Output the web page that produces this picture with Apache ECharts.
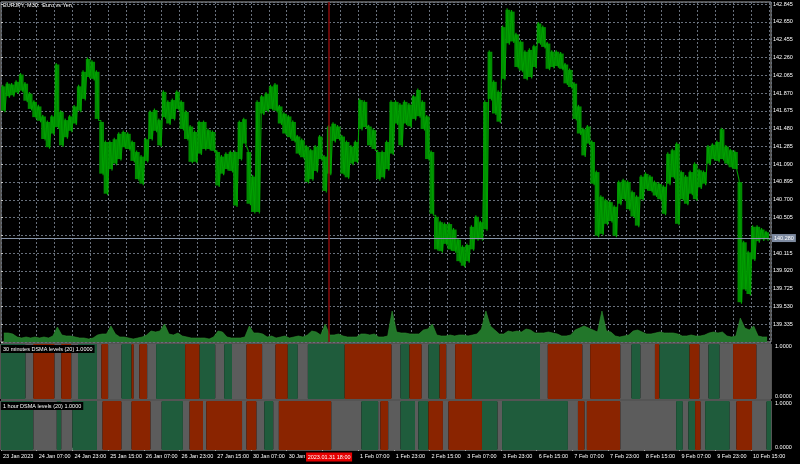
<!DOCTYPE html>
<html><head><meta charset="utf-8">
<script src="https://cdn.jsdelivr.net/npm/echarts@6/dist/echarts.min.js"></script>
<style>html,body{margin:0;padding:0;background:#000;}#c{width:800px;height:464px;}</style>
</head><body><div id="c"></div>
<script>
// ---- data (EURJPY M30, each entry = one group of 4 bars) ----
const BARS_PER_GROUP = 4;
const priceHigh = [
141.96,141.99,141.98,142.01,142.09,141.99,141.88,141.79,141.74,141.63,
141.57,141.63,142.20,141.68,141.59,141.63,141.74,141.96,142.12,142.26,
142.23,142.12,141.57,141.35,141.35,141.38,141.44,141.46,141.44,141.35,
141.24,141.19,141.38,141.68,141.70,141.59,141.90,141.79,141.81,141.90,
141.79,141.68,141.52,141.46,141.57,141.57,141.48,141.46,141.24,141.19,
141.22,141.24,141.24,141.57,141.60,141.24,140.97,141.79,141.85,141.88,
141.96,141.98,141.74,141.66,141.63,141.57,141.41,141.37,141.30,141.26,
141.30,141.41,141.19,141.52,141.55,141.52,141.41,141.35,141.30,141.35,
141.81,141.79,141.52,141.48,141.24,141.24,141.35,141.79,141.79,141.76,
141.79,141.76,141.85,141.92,141.79,141.63,141.24,140.53,140.47,140.45,
140.45,140.39,140.28,140.20,140.22,140.42,140.53,140.47,141.79,142.34,
142.01,141.90,142.61,142.80,142.78,142.53,142.45,142.34,142.36,142.40,
142.65,142.61,142.43,142.34,142.34,142.32,142.20,142.14,141.99,141.74,
141.49,141.52,141.35,141.02,140.75,140.71,140.69,140.64,140.91,140.93,
140.91,140.80,140.75,140.97,141.00,140.97,140.91,140.89,140.86,141.22,
141.26,141.33,141.02,140.97,141.02,141.11,141.04,141.02,141.30,141.32,
141.35,141.49,141.30,141.26,141.24,140.91,140.25,140.14,140.42,140.42,
140.39,140.36];
const priceLow = [
141.66,141.82,141.83,141.86,141.88,141.77,141.68,141.59,141.55,141.35,
141.26,141.41,141.48,141.28,141.37,141.44,141.52,141.66,141.79,142.03,
142.01,141.57,140.97,140.75,141.02,141.08,141.13,141.26,141.24,141.11,
140.91,140.86,141.11,141.35,141.44,141.28,141.59,141.52,141.57,141.68,
141.46,141.35,141.10,141.10,141.19,141.24,141.24,141.22,140.84,140.97,
141.02,141.00,140.62,141.13,141.30,140.64,140.55,140.55,141.63,141.66,
141.68,141.66,141.52,141.41,141.37,141.33,141.19,141.15,140.88,140.91,
141.00,141.13,140.78,140.97,141.33,141.35,140.97,140.93,141.08,141.10,
141.46,141.48,141.28,141.24,140.91,140.93,141.02,141.19,141.52,141.28,
141.52,141.49,141.57,141.60,141.46,141.13,140.53,140.14,140.12,140.20,
140.14,140.12,140.01,139.96,140.01,140.14,140.25,140.25,140.36,141.79,
141.63,141.54,142.01,142.40,142.42,142.14,142.10,142.01,142.03,142.14,
142.40,142.36,142.12,142.14,142.15,142.12,141.96,141.92,141.57,141.41,
141.17,141.30,140.86,140.29,140.31,140.42,140.45,140.29,140.64,140.69,
140.58,140.50,140.40,140.69,140.80,140.78,140.73,140.69,140.53,140.86,
140.93,140.42,140.69,140.64,140.75,140.69,140.82,140.86,141.08,141.13,
141.11,141.13,141.08,141.04,141.02,139.56,139.70,139.65,140.03,140.23,
140.25,140.25];
const tickVolume = [
1800,1800,1600,1000,800,1000,800,1000,800,1000,
800,1200,3000,1400,1200,1200,1000,800,800,600,
800,1400,1600,1600,3200,1600,1000,1000,800,600,
800,1000,1400,2200,2000,2200,3600,1600,1400,1800,
1200,1000,800,800,800,800,600,1000,2200,2000,
1000,800,800,800,1000,3200,1800,1800,1600,1000,
1200,800,1000,1200,800,1000,1200,1000,1400,2200,
2000,1400,3600,1400,1400,1600,1200,1000,1000,1000,
1600,1600,1400,1600,1000,1000,1200,6200,2000,1800,
1800,1600,1600,1600,2400,2600,3600,1400,1200,1200,
1400,1200,1400,1400,1200,1400,1600,2600,6200,3200,
2400,1600,1600,2200,2000,2200,2000,2600,2400,1800,
1800,1800,2000,1800,1600,1200,1200,1400,2400,2800,
3200,2800,2400,2000,6200,2200,2000,1200,1000,1200,
1400,2200,2400,2000,1600,1600,1800,2000,1800,1800,
1800,1600,1200,1200,1400,1200,1200,1400,1800,2000,
1800,2000,1200,1000,1200,4800,2800,2400,3200,1200,
1000,1000];
const xTickLabels = ['23 Jan 2023','24 Jan 07:00','24 Jan 23:00','25 Jan 15:00','26 Jan 07:00','26 Jan 23:00',
  '27 Jan 15:00','30 Jan 07:00','30 Jan 23:00','','1 Feb 07:00','1 Feb 23:00','2 Feb 15:00','3 Feb 07:00',
  '3 Feb 23:00','6 Feb 15:00','7 Feb 07:00','7 Feb 23:00','8 Feb 15:00','9 Feb 07:00','9 Feb 23:00','10 Feb 15:00'];
const yTickLabels = ['139.335','139.530','139.725','139.920','140.115','','140.505','140.700','140.895',
  '141.090','141.285','141.480','141.675','141.870','142.065','142.260','142.455','142.650','142.845'];
const lastPrice = 140.280;
const markerBar = 294;
const markerLabel = '2023.01.31 18:00';
// DSMA level states: 1 = up (green), 0 = flat (grey), -1 = down (red); edges in bar numbers
const m30Edges = [0,22,29,48,54,63,69,86,90,96,108,117,119,124,131,139,165,178,192,200,207,220,234,246,257,266,275,308,350,358,366,377,383,393,399,407,422,483,490,521,528,555,565,573,586,590,617,626,634,644,656,677,690];
const m30States = [1,0,-1,0,-1,0,1,0,-1,0, 1,-1,0,-1,0,1,-1,1,0,1, 0,-1,0,-1,1,0,1,-1,0,1, -1,0,1,-1,0,-1,1,0,-1,0, -1,0,1,0,-1,1,-1,0,1,0, -1,0];
const h1Edges = [0,29,50,54,64,86,91,108,117,134,144,163,169,181,184,216,220,229,236,244,249,296,323,338,340,347,358,371,374,383,396,401,431,445,449,508,517,523,525,555,605,611,616,622,627,631,653,659,673,686,690];
const h1States = [1,0,1,0,1,0,-1,0,-1,0, 1,0,-1,0,-1,0,-1,0,1,0, -1,0,1,0,-1,0,1,0,1,-1, 0,-1,1,0,1,0,-1,0,-1,0, 1,0,1,-1,0,1,0,-1,0,1];

// ---- styling ----
const FONT = 'Liberation Sans';
const FS = 5.5;
const GRIDC = '#68707c';
const BORDER = '#a8a8a8';
const STATE_COLORS = {'1':'#1f5c3c','0':'#5c5c5c','-1':'#8a2400'};
const Y_MIN = 139.14, Y_STEP = 0.195, Y_MAX = 142.869, X_MAX = 690, X_STEP = 16;
const P_MIN = -0.05, P_MAX = 1.05, P_STEP = 0.05;

const pricePts = [];
priceHigh.forEach((h, k) => {
  pricePts.push([k * BARS_PER_GROUP + 1.5, h]);
  pricePts.push([k * BARS_PER_GROUP + 3.5, priceLow[k]]);
});
const bandData = priceHigh.map((h, k) => [k * BARS_PER_GROUP, (k + 1) * BARS_PER_GROUP, priceLow[k], h]);
const volPts = tickVolume.map((v, k) => [k * BARS_PER_GROUP + 2.5, v]);
const segs = (edges, states) => states.map((s, i) => [edges[i], edges[i + 1], s]);

function rectItem(params, api) {
  const a = api.coord([api.value(0), 1]);
  const b = api.coord([api.value(1), 0]);
  const cs = params.coordSys;
  return {type: 'rect', shape: {x: a[0], y: cs.y, width: b[0] - a[0], height: cs.height},
    style: {fill: STATE_COLORS[String(api.value(2))]}};
}
function bandItem(params, api) {
  const a = api.coord([api.value(0), api.value(3)]);
  const b = api.coord([api.value(1), api.value(2)]);
  const w = b[0] - a[0];
  return {type: 'rect', shape: {x: a[0], y: a[1] + 1.5, width: w + 0.3, height: Math.max(0, b[1] - a[1] - 3)},
    style: {fill: '#008c00'}};
}
const txt = {color: '#fff', fontSize: FS, fontFamily: FONT, fontWeight: 'normal'};
const levelLabel = v => Math.abs(v) < 1e-6 ? '0.0000' : (Math.abs(v - 1) < 1e-6 ? '1.0000' : '');
const panelY = gi => ({gridIndex: gi, type: 'value', position: 'right', min: P_MIN, max: P_MAX, interval: P_STEP,
  axisLine: {show: false}, axisTick: {show: false}, splitLine: {show: false},
  axisLabel: Object.assign({}, txt, {margin: 4, formatter: levelLabel})});

const chart = echarts.init(document.getElementById('c'), null, {renderer: 'canvas'});
chart.setOption({
  backgroundColor: '#000',
  animation: false,
  title: [
    {text: 'EURJPY, M30:  Euro vs Yen', left: 2, top: 2, padding: [0, 1], textStyle: txt},
    {text: '30 minutes DSMA levels (20) 1.0000', left: 1, top: 345, padding: [1, 2], backgroundColor: '#000', textStyle: txt},
    {text: '1 hour DSMA levels (20) 1.0000', left: 1, top: 402, padding: [1, 2], backgroundColor: '#000', textStyle: txt}
  ],
  grid: [
    {left: 1, top: 2, width: 770, height: 340, show: true, borderColor: BORDER, borderWidth: 1, backgroundColor: 'transparent'},
    {left: 1, top: 344, width: 770, height: 55, show: true, borderColor: BORDER, borderWidth: 1, backgroundColor: 'transparent'},
    {left: 1, top: 401, width: 770, height: 49, show: true, borderColor: BORDER, borderWidth: 1, backgroundColor: 'transparent'}
  ],
  xAxis: [
    {gridIndex: 0, type: 'value', min: 0, max: X_MAX, interval: X_STEP, axisLine: {show: false}, axisTick: {show: false},
     axisLabel: {show: false}, splitLine: {show: true, lineStyle: {color: GRIDC, width: 1, type: [2, 2]}}},
    {gridIndex: 1, type: 'value', min: 0, max: X_MAX, show: false},
    {gridIndex: 2, type: 'value', min: 0, max: X_MAX, interval: 32, axisLine: {show: false},
     axisTick: {show: true, length: 3, lineStyle: {color: '#c8c8c8'}},
     axisLabel: Object.assign({}, txt, {align: 'left', margin: 3, padding: [0, 0, 0, 2], showMaxLabel: false,
       formatter: v => { const i = Math.round(v / 32); return Math.abs(v / 32 - i) < 1e-6 ? (xTickLabels[i] || '') : ''; }}),
     splitLine: {show: false}}
  ],
  yAxis: [
    {gridIndex: 0, type: 'value', position: 'right', min: Y_MIN, max: Y_MAX, interval: Y_STEP,
     axisLine: {show: false}, axisTick: {show: true, length: 2, lineStyle: {color: '#c8c8c8'}},
     axisLabel: Object.assign({}, txt, {margin: 2, showMaxLabel: false, formatter: v => {
       const f = (v - Y_MIN) / Y_STEP, k = Math.round(f);
       return (Math.abs(f - k) < 0.01 && k >= 1) ? (yTickLabels[k - 1] || '') : ''; }}),
     splitLine: {show: true, lineStyle: {color: GRIDC, width: 1, type: [2, 2]}}},
    {gridIndex: 0, type: 'value', min: 0, max: 68000, show: false},
    panelY(1),
    panelY(2)
  ],
  series: [
    {type: 'line', name: 'volume', xAxisIndex: 0, yAxisIndex: 1, data: volPts, showSymbol: false, silent: true, z: 1,
     lineStyle: {width: 0.6, color: '#2f8f2f'}, areaStyle: {color: '#22762a', opacity: 1}},
    {type: 'custom', name: 'band', xAxisIndex: 0, yAxisIndex: 0, data: bandData, encode: {x: [0, 1], y: [2, 3]},
     renderItem: bandItem, silent: true, z: 2},
    {type: 'line', name: 'EURJPY', xAxisIndex: 0, yAxisIndex: 0, data: pricePts, showSymbol: false, silent: true, z: 3,
     lineStyle: {width: 1.1, color: '#00a000'},
     markLine: {silent: true, symbol: ['none', 'none'], animation: false, data: [
       {yAxis: lastPrice, lineStyle: {color: '#8794a8', width: 1, type: 'solid'},
        label: {show: true, position: 'end', distance: 1, formatter: '140.280', color: '#fff', fontSize: FS, fontFamily: FONT,
                backgroundColor: '#7d8aa0', padding: [1, 2]}},
       {xAxis: markerBar, lineStyle: {color: '#8a0c0c', width: 1.5, type: 'solid'}, label: {show: false}}
     ]}},
    {type: 'custom', name: 'M30 DSMA', xAxisIndex: 1, yAxisIndex: 2, data: segs(m30Edges, m30States),
     encode: {x: [0, 1]}, renderItem: rectItem, silent: true},
    {type: 'custom', name: 'H1 DSMA', xAxisIndex: 2, yAxisIndex: 3, data: segs(h1Edges, h1States),
     encode: {x: [0, 1]}, renderItem: rectItem, silent: true},
    {type: 'line', name: 'marker', xAxisIndex: 2, yAxisIndex: 3, data: [[markerBar, P_MIN]], showSymbol: false, silent: true,
     clip: false, z: 5, lineStyle: {width: 0},
     markPoint: {silent: true, animation: false, data: [
       {coord: [markerBar, P_MIN], symbol: 'rect', symbolSize: [46, 9], symbolOffset: [0, 7],
        itemStyle: {color: '#e60000'},
        label: {show: true, position: 'inside', formatter: markerLabel, color: '#fff', fontSize: FS, fontFamily: FONT}}
     ]}}
  ]
});
</script></body></html>
